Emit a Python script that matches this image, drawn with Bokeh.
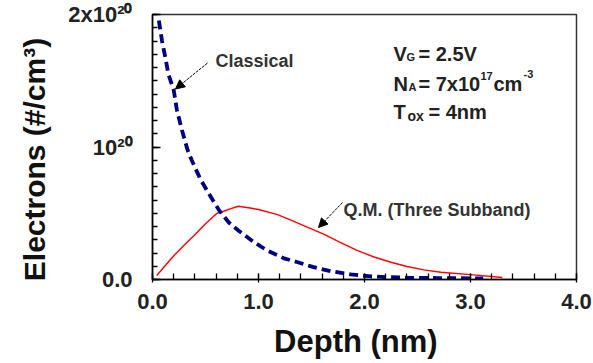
from bokeh.plotting import figure
from bokeh.models import Range1d, Label, Arrow, NormalHead, SingleIntervalTicker
from bokeh.embed import file_html
from bokeh.resources import INLINE

# ---------------- data (electron density in units of 1e20 cm^-3) ----------------
depth_classical = [0.06, 0.09, 0.12, 0.15, 0.20, 0.23, 0.28, 0.33, 0.37, 0.45, 0.53,
                   0.63, 0.72, 0.81, 0.96, 1.08, 1.24, 1.37, 1.52, 1.68, 1.87, 2.06,
                   2.25, 2.43, 2.69, 3.12]
electrons_classical = [1.955, 1.80, 1.68, 1.55, 1.43, 1.28, 1.12, 0.98, 0.90, 0.76, 0.65,
                       0.52, 0.43, 0.37, 0.28, 0.22, 0.16, 0.13, 0.093, 0.063, 0.038, 0.023,
                       0.017, 0.013, 0.011, 0.008]

depth_qm = [0.04, 0.19, 0.30, 0.39, 0.50, 0.58, 0.61, 0.67, 0.74, 0.81, 0.92, 1.00,
            1.18, 1.30, 1.46, 1.62, 1.77, 1.93, 2.09, 2.25, 2.40, 2.56, 2.72, 3.03, 3.30]
electrons_qm = [0.03, 0.17, 0.26, 0.33, 0.42, 0.48, 0.50, 0.515, 0.535, 0.553, 0.54, 0.528,
                0.49, 0.45, 0.395, 0.34, 0.28, 0.22, 0.17, 0.13, 0.098, 0.073, 0.055,
                0.035, 0.015]

x_ticks = [0, 1, 2, 3, 4]
x_tick_labels = ["0.0", "1.0", "2.0", "3.0", "4.0"]
y_ticks = [0, 1, 2]
y_tick_labels = ["0.0", "10\u00b2\u2070", "2x10\u00b2\u2070"]

x_title = "Depth (nm)"
y_title = "Electrons (#/cm\u00b3)"

# ---------------- layout constants ----------------
W, H = 593, 363
FL, FT, FR, FB = 152, 14, 576, 279
X0, X1, Y0, Y1 = 0, 4, 0, 2
FONT = "Liberation Sans"
NBSP = "\u00a0"

p = figure(width=W, height=H, x_range=Range1d(X0, X1), y_range=Range1d(Y0, Y1),
           output_backend="svg", toolbar_location=None,
           min_border_left=FL, min_border_right=W - FR,
           min_border_top=FT, min_border_bottom=H - FB)
p.background_fill_color = "white"
p.border_fill_color = "white"
p.xgrid.visible = False
p.ygrid.visible = False
p.outline_line_color = "#333333"
p.outline_line_width = 1.5


def cx(px):
    return (px - FL) / (FR - FL) * (X1 - X0) + X0


def cy(py):
    return (FB - py) / (FB - FT) * (Y1 - Y0) + Y0


# axes
p.xaxis.ticker = SingleIntervalTicker(interval=1, num_minor_ticks=5)
p.xaxis.major_label_overrides = {t: s for t, s in zip(x_ticks, x_tick_labels)}
p.xaxis.major_label_standoff = 11
p.xaxis.major_tick_in = 6
p.xaxis.major_tick_out = 3
p.xaxis.minor_tick_in = 6
p.xaxis.minor_tick_out = 0
# trailing non-breaking spaces nudge the centred title slightly left, as in the original
p.xaxis.axis_label = x_title + NBSP * 2
p.xaxis.axis_label_text_font_size = "31px"
p.xaxis.axis_label_standoff = 12

p.yaxis.ticker = SingleIntervalTicker(interval=1, num_minor_ticks=10)
p.yaxis.major_label_overrides = {t: s for t, s in zip(y_ticks, y_tick_labels)}
p.yaxis.major_label_standoff = 20
p.yaxis.major_tick_in = 8
p.yaxis.major_tick_out = 0
p.yaxis.minor_tick_in = 5
p.yaxis.minor_tick_out = 0
p.yaxis.axis_label = y_title + NBSP * 3
p.yaxis.axis_label_text_font_size = "30px"
p.yaxis.axis_label_standoff = 14

for ax in (p.xaxis[0], p.yaxis[0]):
    ax.axis_line_width = 1.5
    ax.axis_line_color = "black"
    ax.major_tick_line_color = "black"
    ax.minor_tick_line_color = "black"
    ax.major_tick_line_width = 1.3
    ax.minor_tick_line_width = 1.3
    ax.major_label_text_font = FONT
    ax.major_label_text_font_size = "22px"
    ax.major_label_text_font_style = "bold"
    ax.major_label_text_color = "#222222"
    ax.axis_label_text_font = FONT
    ax.axis_label_text_font_style = "bold"
    ax.axis_label_text_color = "#111111"

# curves
p.line(depth_qm, electrons_qm, line_color="#ff0000", line_width=1.4)
p.line(depth_classical, electrons_classical, line_color="#000080", line_width=3.8,
       line_dash="9 5")


def add_text(txt, x, y, size, bold=True, align="left", baseline="alphabetic",
             color="#222222"):
    p.add_layout(Label(x=cx(x), y=cy(y), text=txt, text_font=FONT,
                       text_font_size=f"{size}px",
                       text_font_style="bold" if bold else "normal",
                       text_align=align, text_baseline=baseline,
                       text_color=color))


# curve annotations
add_text("Classical", 215, 60.5, 18, color="#333333")
add_text("Q.M. (Three Subband)", 343, 209.5, 18, color="#333333")

for (xs, ys, xe, ye) in [(207, 62.5, 175, 88.5), (342, 202, 318, 227)]:
    p.add_layout(Arrow(end=NormalHead(size=9, fill_color="black", line_color="black"),
                       x_start=cx(xs), y_start=cy(ys), x_end=cx(xe), y_end=cy(ye),
                       line_color="black", line_width=1, line_dash="3 1"))

# parameter block
add_text("V", 393, 53.5, 20)
add_text("G", 406, 56, 11)
add_text("= 2.5V", 418, 53.5, 20)

add_text("N", 393, 83.5, 20)
add_text("A", 408, 86, 11)
add_text("= 7x10", 418, 83.5, 20)
add_text("17", 480, 75, 11)
add_text("cm", 493, 83.5, 20)
add_text("-3", 523, 73.5, 11)

add_text("T", 393, 111, 20)
add_text("ox", 407, 115, 14)
add_text("= 4nm", 428, 111, 20)

open("out.html", "w").write(file_html(p, INLINE))
